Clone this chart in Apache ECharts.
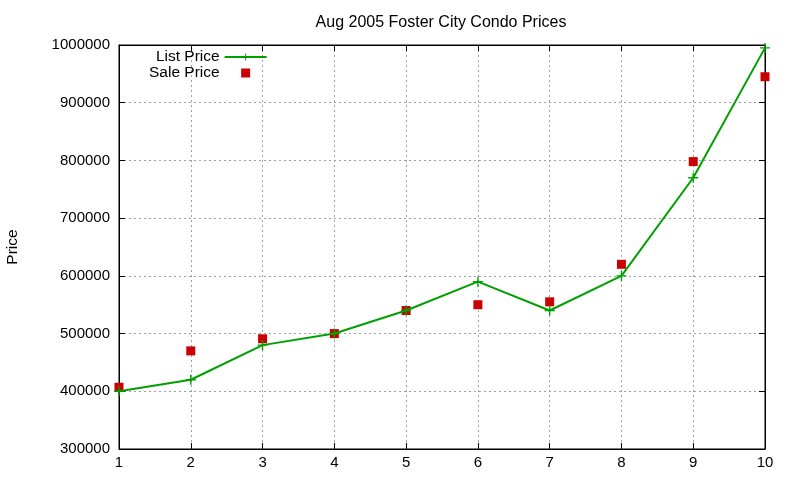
<!DOCTYPE html>
<html><head><meta charset="utf-8">
<script src="https://cdn.jsdelivr.net/npm/echarts@6/dist/echarts.min.js"></script>
<style>html,body{margin:0;padding:0;background:#fff}#c{width:800px;height:480px}</style>
</head><body><div id="c"></div>
<script>
const xValues = [1, 2, 3, 4, 5, 6, 7, 8, 9, 10];
const listPrice = [400000, 420000, 480000, 500000, 540000, 590000, 540000, 600000, 770000, 995000];
const salePrice = [407000, 470000, 491000, 500000, 540000, 550000, 555000, 620000, 798000, 945000];
const titleText = 'Aug 2005 Foster City Condo Prices';
const yTitle = 'Price';

const font = 'Liberation Sans, Arial, sans-serif';
const chart = echarts.init(document.getElementById('c'), null, {renderer: 'canvas'});
const plus = 'path://M4.3,0H5.7V4.3H10V5.7H5.7V10H4.3V5.7H0V4.3H4.3Z';
const square = 'path://M0,0H10V10H0Z';
const tickCommon = {show: true, inside: true, length: 6, lineStyle: {color: '#000'}};
const grid = {type: [2, 3], color: '#a0a0a0', width: 1};
chart.setOption({
  animation: false,
  backgroundColor: '#fff',
  title: {text: titleText, left: 436, top: 10, textAlign: 'center',
    textStyle: {fontFamily: font, fontSize: 16, fontWeight: 'normal', color: '#000'}},
  legend: {
    orient: 'vertical', left: 144, top: 44, align: 'right', itemGap: 0,
    itemWidth: 42, itemHeight: 9,
    textStyle: {fontFamily: font, fontSize: 15.5, color: '#000', lineHeight: 16},
    data: [
      {name: 'List Price'},
      {name: 'Sale Price', icon: square}
    ]
  },
  grid: {left: 119, right: 35, top: 45, bottom: 31, show: true, borderColor: '#000', borderWidth: 1,
    outerBoundsMode: 'none', containLabel: false},
  xAxis: [
    {type: 'value', min: 1, max: 10, interval: 1,
      axisLine: {show: true, lineStyle: {color: '#000'}}, axisTick: tickCommon,
      axisLabel: {color: '#000', fontFamily: font, fontSize: 15, margin: 6},
      splitLine: {show: true, lineStyle: grid}},
    {type: 'value', position: 'top', min: 1, max: 10, interval: 1,
      axisLine: {show: true, lineStyle: {color: '#000'}}, axisTick: tickCommon,
      axisLabel: {show: false}, splitLine: {show: false}}
  ],
  yAxis: [
    {type: 'value', min: 300000, max: 1000000, interval: 100000,
      name: yTitle, nameLocation: 'middle', nameGap: 98, nameRotate: 90,
      nameTextStyle: {fontFamily: font, fontSize: 15.5, color: '#000'},
      axisLine: {show: true, lineStyle: {color: '#000'}}, axisTick: tickCommon,
      axisLabel: {color: '#000', fontFamily: font, fontSize: 15, margin: 9,
        formatter: v => String(v)},
      splitLine: {show: true, lineStyle: grid}},
    {type: 'value', position: 'right', min: 300000, max: 1000000, interval: 100000,
      axisLine: {show: true, lineStyle: {color: '#000'}}, axisTick: tickCommon,
      axisLabel: {show: false}, splitLine: {show: false}}
  ],
  series: [
    {name: 'List Price', type: 'line', data: xValues.map((x, i) => [x, listPrice[i]]),
      symbol: plus, symbolSize: 10, showSymbol: true,
      lineStyle: {color: '#00a000', width: 2}, itemStyle: {color: '#00a000', opacity: 1}},
    {name: 'Sale Price', type: 'scatter', data: xValues.map((x, i) => [x, salePrice[i]]),
      symbol: 'rect', symbolSize: 9, itemStyle: {color: '#cc0000', opacity: 1}}
  ]
});
</script></body></html>
